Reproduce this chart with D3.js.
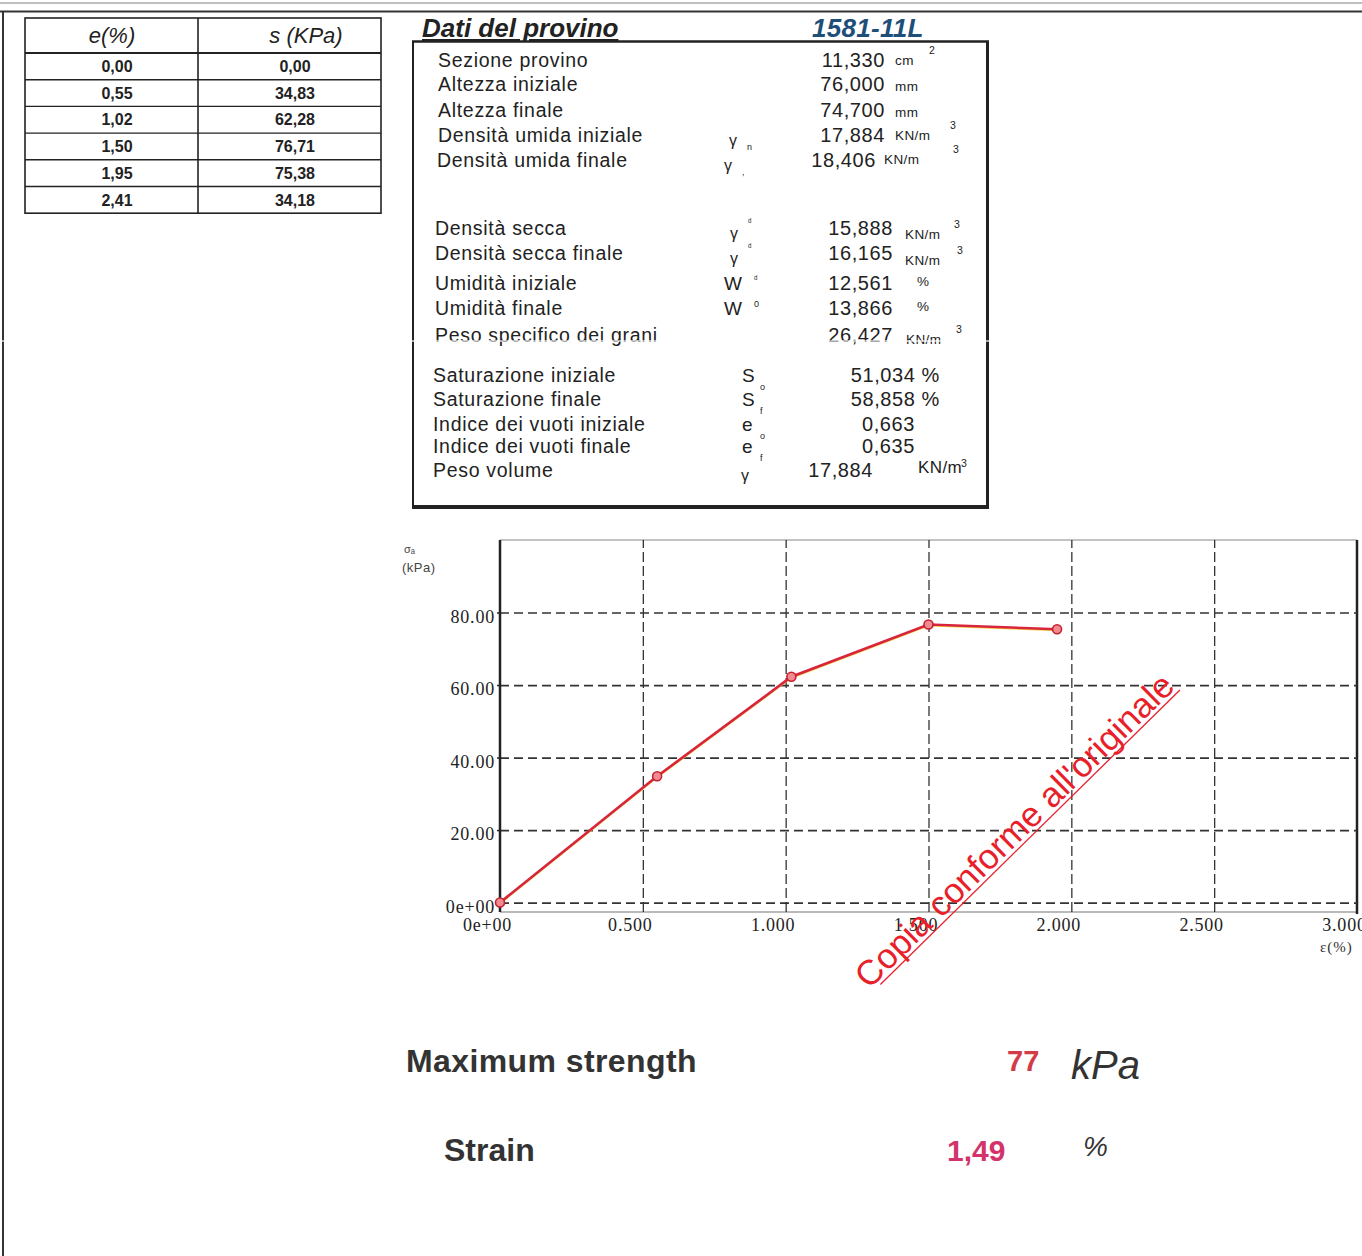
<!DOCTYPE html>
<html>
<head>
<meta charset="utf-8">
<script src="https://cdn.jsdelivr.net/npm/d3@7"></script>
<style>
  body { margin: 0; background: #fff; }
  svg { display: block; }
  text { font-family: "Liberation Sans", Arial, sans-serif; fill: #222; }
  .serif { font-family: "Liberation Serif", "Times New Roman", serif; }
</style>
</head>
<body>
<svg id="page"></svg>
<script>
// ---------- data ----------
const strainPct = [0.00, 0.55, 1.02, 1.50, 1.95, 2.41];
const stressKPa = [0.00, 34.83, 62.28, 76.71, 75.38, 34.18];
const plottedCount = 5; // the graph stops at 1.95 %

const xTicks = [0, 0.5, 1.0, 1.5, 2.0, 2.5, 3.0];
const yTicks = [0, 20, 40, 60, 80];

const specimenId = '1581-11L';
const datiLabels = ['Sezione provino', 'Altezza iniziale', 'Altezza finale', 'Densità umida iniziale',
  'Densità umida finale', 'Densità secca', 'Densità secca finale', 'Umidità iniziale', 'Umidità finale',
  'Peso specifico dei grani', 'Saturazione iniziale', 'Saturazione finale', 'Indice dei vuoti iniziale',
  'Indice dei vuoti finale', 'Peso volume'];
const datiSymbols = ['', '', '', 'γ', 'γ', 'γ', 'γ', 'W', 'W', '', 'S', 'S', 'e', 'e', 'γ'];
const datiSymbolMarks = ['', '', '', 'n', ',', 'ᵈ', 'ᵈ', 'ᵈ', '0', '', 'o', 'f', 'o', 'f', ''];
const datiValues = ['11,330', '76,000', '74,700', '17,884', '18,406', '15,888', '16,165', '12,561',
  '13,866', '26,427', '51,034 %', '58,858 %', '0,663', '0,635', '17,884'];
const datiUnits = ['cm', 'mm', 'mm', 'KN/m', 'KN/m', 'KN/m', 'KN/m', '%', '%', 'KN/m', '', '', '', '', 'KN/m'];
const datiExps = ['2', '', '', '3', '3', '3', '3', '', '', '3', '', '', '', '', '3'];

const maxStrength = '77';
const strainAtMax = '1,49';

// ---------- layout (positions only) ----------
const rowBaseline = [67, 91, 117, 142, 167, 235, 260, 290, 315, 342, 382, 406, 431, 453, 477];
const labelX = [438, 438, 438, 438, 437, 435, 435, 435, 435, 435, 433, 433, 433, 433, 433];
const symbolX = [0, 0, 0, 729, 724, 730, 730, 724, 724, 0, 742, 742, 742, 742, 741];
const valueEnd = [885, 885, 885, 885, 876, 893, 893, 893, 893, 893, 940, 940, 915, 915, 873];
const unitX = [895, 895, 895, 895, 884, 905, 905, 917, 917, 906, 0, 0, 0, 0, 918];
const unitDy = [-2, 0, 0, -2, -3, 4, 5, -4, -4, 2, 0, 0, 0, 0, -4];
const expX = [929, 0, 0, 950, 953, 954, 957, 0, 0, 956, 0, 0, 0, 0, 961];

const fmtComma = d => d3.format('.2f')(d).replace('.', ',');

const svg = d3.select('#page').attr('width', 1362).attr('height', 1256);

// page frame lines (scan edges)
svg.append('line').attr('x1', 0).attr('x2', 1362).attr('y1', 3).attr('y2', 3)
  .attr('stroke', '#aaa').attr('stroke-width', 1.5);
svg.append('line').attr('x1', 0).attr('x2', 1362).attr('y1', 11.5).attr('y2', 11.5)
  .attr('stroke', '#333').attr('stroke-width', 2);
svg.append('line').attr('x1', 3).attr('x2', 3).attr('y1', 11).attr('y2', 1256)
  .attr('stroke', '#333').attr('stroke-width', 2);

// ---------- e / s table ----------
function drawTable() {
  const g = svg.append('g');
  const left = 25, mid = 198, right = 381, top = 18, headBottom = 53, rowH = 26.7;
  const rows = strainPct.map((e, i) => ({ e: e, s: stressKPa[i] }));
  const bottom = headBottom + rows.length * rowH;

  g.append('rect').attr('x', left).attr('y', top).attr('width', right - left).attr('height', bottom - top)
    .attr('fill', 'none').attr('stroke', '#222').attr('stroke-width', 1.6);
  g.append('line').attr('x1', mid).attr('x2', mid).attr('y1', top).attr('y2', bottom)
    .attr('stroke', '#222').attr('stroke-width', 1.6);
  g.append('line').attr('x1', left).attr('x2', right).attr('y1', headBottom).attr('y2', headBottom)
    .attr('stroke', '#222').attr('stroke-width', 2.2);
  g.selectAll('.rowline').data(rows.slice(1)).enter().append('line')
    .attr('x1', left).attr('x2', right)
    .attr('y1', (d, i) => headBottom + (i + 1) * rowH)
    .attr('y2', (d, i) => headBottom + (i + 1) * rowH)
    .attr('stroke', '#222').attr('stroke-width', 1.4);

  g.append('text').attr('x', 112).attr('y', 43).attr('text-anchor', 'middle')
    .attr('font-size', 22).attr('font-style', 'italic').text('e(%)');
  g.append('text').attr('x', 306).attr('y', 43).attr('text-anchor', 'middle')
    .attr('font-size', 22).attr('font-style', 'italic').text('s (KPa)');

  g.selectAll('.ecell').data(rows).enter().append('text')
    .attr('x', 117).attr('y', (d, i) => headBottom + i * rowH + 19)
    .attr('text-anchor', 'middle').attr('font-size', 16).attr('font-weight', 'bold')
    .text(d => fmtComma(d.e));
  g.selectAll('.scell').data(rows).enter().append('text')
    .attr('x', 295).attr('y', (d, i) => headBottom + i * rowH + 19)
    .attr('text-anchor', 'middle').attr('font-size', 16).attr('font-weight', 'bold')
    .text(d => fmtComma(d.s));
}

// ---------- specimen data box ----------
function drawDati() {
  const g = svg.append('g');
  g.append('text').attr('x', 422).attr('y', 37).attr('font-size', 26)
    .attr('font-weight', 'bold').attr('font-style', 'italic')
    .attr('text-decoration', 'underline').text('Dati del provino');
  g.append('text').attr('x', 812).attr('y', 37).attr('font-size', 26).attr('letter-spacing', 0.3)
    .attr('font-weight', 'bold').attr('font-style', 'italic')
    .style('fill', '#1d4f78').text(specimenId);

  // box, heavier on the right and bottom like the scan
  g.append('line').attr('x1', 412).attr('x2', 989).attr('y1', 41.5).attr('y2', 41.5).attr('stroke', '#222').attr('stroke-width', 2.5);
  g.append('line').attr('x1', 413).attr('x2', 413).attr('y1', 41).attr('y2', 508).attr('stroke', '#222').attr('stroke-width', 2);
  g.append('line').attr('x1', 987.5).attr('x2', 987.5).attr('y1', 41).attr('y2', 509).attr('stroke', '#222').attr('stroke-width', 3);
  g.append('line').attr('x1', 412).attr('x2', 989).attr('y1', 507).attr('y2', 507).attr('stroke', '#222').attr('stroke-width', 4);

  const rows = datiLabels.map((label, i) => ({
    label: label, sym: datiSymbols[i], mark: datiSymbolMarks[i],
    value: datiValues[i], unit: datiUnits[i], exp: datiExps[i], i: i
  }));

  const row = g.selectAll('.dati-row').data(rows).enter().append('g').attr('class', 'dati-row');

  row.append('text').attr('x', d => labelX[d.i]).attr('y', d => rowBaseline[d.i])
    .attr('font-size', 19.5).attr('letter-spacing', 0.7).text(d => d.label);

  row.filter(d => d.sym).append('text')
    .attr('x', d => symbolX[d.i]).attr('y', d => rowBaseline[d.i] + (d.sym === 'γ' ? 4 : 0))
    .attr('font-size', d => d.sym === 'γ' ? 16 : 19).text(d => d.sym);
  row.filter(d => d.mark).append('text')
    .attr('x', d => symbolX[d.i] + (d.sym === 'W' ? 30 : 18))
    .attr('y', d => rowBaseline[d.i] + (d.sym === 'W' ? -8 : (d.sym === 'γ' && d.i >= 5 ? -10 : 8)))
    .attr('font-size', 9).text(d => d.mark);

  row.append('text').attr('x', d => valueEnd[d.i]).attr('y', d => rowBaseline[d.i])
    .attr('text-anchor', 'end').attr('font-size', 20).attr('letter-spacing', 0.6).text(d => d.value);

  row.filter(d => d.unit).append('text')
    .attr('x', d => unitX[d.i]).attr('y', d => rowBaseline[d.i] + unitDy[d.i])
    .attr('font-size', d => d.i === 14 ? 17 : 13.5).attr('letter-spacing', 0.4).text(d => d.unit);
  row.filter(d => d.exp).append('text')
    .attr('x', d => expX[d.i]).attr('y', d => rowBaseline[d.i] + unitDy[d.i] - (d.i === 14 ? 6 : 11))
    .attr('font-size', 10.5).text(d => d.exp);
}

// ---------- stress / strain chart ----------
class StressStrainVis {
  constructor(_config, _data) {
    this.config = {
      left: _config.left, right: _config.right, top: _config.top, bottom: _config.bottom
    };
    this.data = _data;
    this.initVis();
  }

  initVis() {
    let vis = this;
    const c = vis.config;
    vis.xScale = d3.scaleLinear().domain([0, 3]).range([c.left, c.right]);
    vis.yScale = d3.scaleLinear().domain([-2.6, 100]).range([c.bottom, c.top]);
    vis.chart = svg.append('g');
    vis.renderVis();
  }

  renderVis() {
    let vis = this;
    const c = vis.config;
    const w = c.right - c.left, h = c.bottom - c.top;

    // frame
    vis.chart.append('line').attr('x1', c.left).attr('x2', c.right).attr('y1', c.top).attr('y2', c.top)
      .attr('stroke', '#888').attr('stroke-width', 1.2);
    vis.chart.append('line').attr('x1', c.left).attr('x2', c.right).attr('y1', c.bottom).attr('y2', c.bottom)
      .attr('stroke', '#777').attr('stroke-width', 1.2);
    vis.chart.append('line').attr('x1', c.right).attr('x2', c.right).attr('y1', c.top).attr('y2', c.bottom + 2)
      .attr('stroke', '#222').attr('stroke-width', 2.5);

    // grids
    const yGrid = vis.chart.append('g').attr('transform', `translate(${c.left},0)`)
      .call(d3.axisLeft(vis.yScale).tickValues(yTicks).tickSize(-w).tickFormat(''));
    yGrid.select('.domain').remove();
    yGrid.selectAll('line').attr('stroke', '#333').attr('stroke-width', 1.7).attr('stroke-dasharray', '9,5');

    const xGrid = vis.chart.append('g').attr('transform', `translate(0,${c.bottom})`)
      .call(d3.axisBottom(vis.xScale).tickValues(xTicks.slice(1, -1)).tickSize(-h).tickFormat(''));
    xGrid.select('.domain').remove();
    xGrid.selectAll('line').attr('stroke', '#333').attr('stroke-width', 1.3).attr('stroke-dasharray', '10,4');

    // y axis line
    vis.chart.append('line').attr('x1', c.left).attr('x2', c.left).attr('y1', c.top).attr('y2', c.bottom)
      .attr('stroke', '#222').attr('stroke-width', 2.5);

    // tick labels
    const yAxis = vis.chart.append('g').attr('transform', `translate(${c.left},0)`)
      .call(d3.axisLeft(vis.yScale).tickValues(yTicks).tickSize(3).tickPadding(2)
        .tickFormat(v => v === 0 ? '0e+00' : d3.format('.2f')(v)));
    yAxis.select('.domain').remove();
    yAxis.selectAll('line').attr('stroke', '#222').attr('stroke-width', 1.5);
    yAxis.selectAll('text').attr('class', 'serif').attr('font-size', 18).attr('letter-spacing', 0.8)
      .attr('dy', '0.55em').style('fill', '#222');

    // the last label runs off the page edge in the original too
    const xAxis = vis.chart.append('g').attr('transform', `translate(0,${c.bottom})`)
      .call(d3.axisBottom(vis.xScale).tickValues(xTicks).tickSize(0).tickPadding(6)
        .tickFormat(v => v === 0 ? '0e+00' : d3.format('.3f')(v)));
    xAxis.select('.domain').remove();
    xAxis.selectAll('text').attr('class', 'serif').attr('font-size', 18).attr('letter-spacing', 0.8)
      .attr('x', -13).style('fill', '#222');

    // axis titles
    vis.chart.append('text').attr('x', 404).attr('y', 553).attr('font-size', 11).style('fill', '#444').text('σₐ');
    vis.chart.append('text').attr('x', 402).attr('y', 572).attr('font-size', 13).attr('letter-spacing', 0.5)
      .style('fill', '#444').text('(kPa)');
    vis.chart.append('text').attr('class', 'serif').attr('x', 1320).attr('y', 952).attr('font-size', 15)
      .attr('letter-spacing', 1).style('fill', '#333').text('ε(%)');

    // series
    const line = d3.line().x(d => vis.xScale(d.x)).y(d => vis.yScale(d.y));
    vis.chart.append('path').datum(vis.data).attr('d', line)
      .attr('transform', 'translate(0,1.2)')
      .attr('fill', 'none').attr('stroke', '#f2d24a').attr('stroke-width', 1.6);
    vis.chart.append('path').datum(vis.data).attr('d', line)
      .attr('fill', 'none').attr('stroke', '#d8253d').attr('stroke-width', 2.6);
    vis.chart.selectAll('.pt').data(vis.data).enter().append('circle')
      .attr('cx', d => vis.xScale(d.x)).attr('cy', d => vis.yScale(d.y)).attr('r', 4.5)
      .attr('fill', '#ef8a90').attr('stroke', '#c8202f').attr('stroke-width', 1.6);
  }
}

function drawSummary() {
  const g = svg.append('g');
  g.append('text').attr('x', 406).attr('y', 1072).attr('font-size', 32).attr('font-weight', 'bold')
    .attr('letter-spacing', 0.4).style('fill', '#333').text('Maximum strength');
  g.append('text').attr('x', 1007).attr('y', 1071).attr('font-size', 29).attr('font-weight', 'bold')
    .style('fill', '#d13c48').text(maxStrength);
  g.append('text').attr('x', 1071).attr('y', 1079).attr('font-size', 40).attr('font-style', 'italic')
    .style('fill', '#333').text('kPa');
  g.append('text').attr('x', 444).attr('y', 1161).attr('font-size', 32).attr('font-weight', 'bold')
    .style('fill', '#333').text('Strain');
  g.append('text').attr('x', 947).attr('y', 1161).attr('font-size', 30).attr('font-weight', 'bold')
    .style('fill', '#d3336a').text(strainAtMax);
  g.append('text').attr('x', 1083).attr('y', 1156).attr('font-size', 28).attr('font-style', 'italic')
    .style('fill', '#333').text('%');
}

function drawStamp() {
  const g = svg.append('g').attr('transform', 'translate(869,990) rotate(-44.5)');
  g.append('text').attr('x', 0).attr('y', 0).attr('font-size', 35).style('fill', '#e8202a')
    .text("Copia conforme all'originale");
  g.append('line').attr('x1', 12).attr('x2', 432).attr('y1', 4).attr('y2', 4)
    .attr('stroke', '#e8202a').attr('stroke-width', 1.3);
}

drawTable();
drawDati();
const points = strainPct.slice(0, plottedCount).map((x, i) => ({ x: x, y: stressKPa[i] }));
new StressStrainVis({ left: 500, right: 1357, top: 540, bottom: 912 }, points);
drawSummary();
drawStamp();

// white scan streak across the page
svg.append('line').attr('x1', 0).attr('x2', 1362).attr('y1', 341).attr('y2', 341)
  .attr('stroke', '#fff').attr('stroke-width', 1.5).attr('opacity', 0.8);
</script>
</body>
</html>
